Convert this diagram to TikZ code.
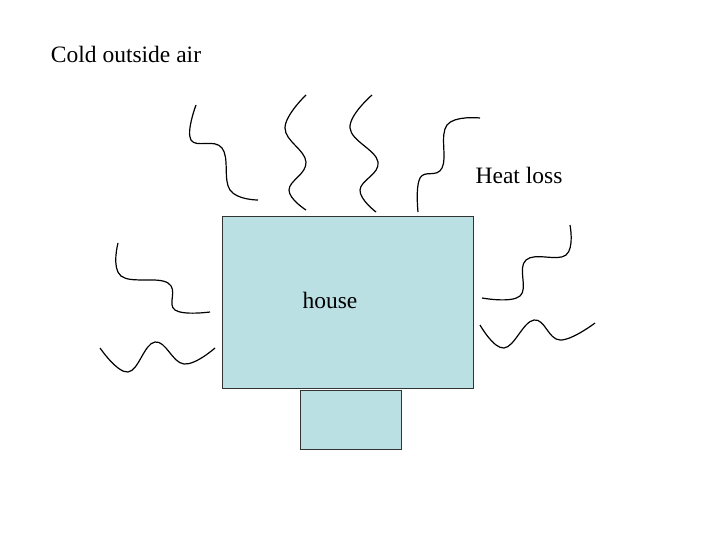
\documentclass[tikz,border=0pt]{standalone}
\usepackage{fontspec}
\setmainfont{Liberation Serif}
\begin{document}
\begin{tikzpicture}[x=1pt,y=-1pt,
  wave/.style={draw=black,line width=1.2pt,smooth,tension=0.7},
  housebox/.style={draw=black!80,fill={rgb,255:red,187;green,224;blue,227},line width=0.6pt},
  lbl/.style={font=\fontsize{23.5}{28}\selectfont,inner sep=0pt}]
\useasboundingbox (0,0) rectangle (720,540);
\draw[housebox] (222,216) rectangle (473,388);
\draw[housebox] (300,390) rectangle (401,449);
\node[lbl] (cold) at (126,54) {Cold outside air};
\node[lbl] (heat) at (519,175) {Heat loss};
\node[lbl] (house) at (330,300) {house};
\draw[wave] plot coordinates {(196,105) (191,140) (222,148) (230,190) (258,200)};
\draw[wave] plot coordinates {(306,95) (285,128) (306,162) (289,190) (306,210)};
\draw[wave] plot coordinates {(372,95) (350,128) (378,162) (360,190) (376,212)};
\draw[wave] plot coordinates {(480,118) (447,125) (442,168) (420,178) (418,212)};
\draw[wave] plot coordinates {(118,243) (121,276) (168,283) (175,310) (210,312)};
\draw[wave] plot coordinates {(100,348) (128,372) (155,342) (184,364) (215,348)};
\draw[wave] plot coordinates {(570,225) (566,255) (526,260) (520,296) (482,298)};
\draw[wave] plot coordinates {(480,325) (504,348) (534,320) (560,340) (595,323)};
\end{tikzpicture}
\end{document}
